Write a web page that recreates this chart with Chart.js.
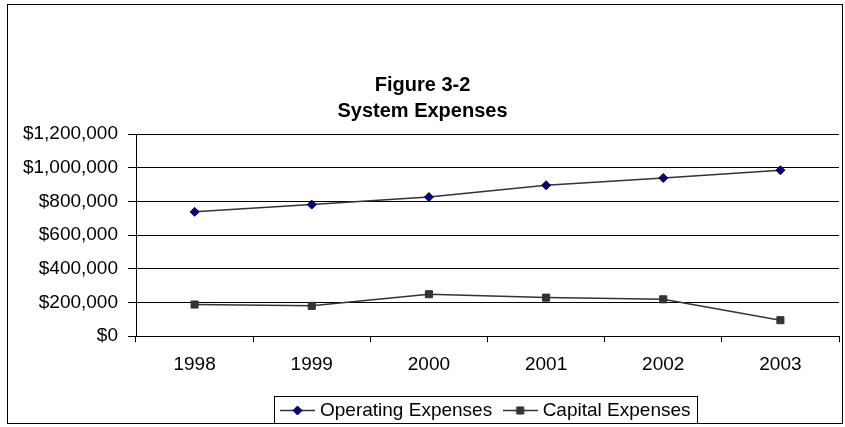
<!DOCTYPE html>
<html>
<head>
<meta charset="UTF-8">
<title>System Expenses</title>
<script src="https://cdn.jsdelivr.net/npm/chart.js@4.4.0/dist/chart.umd.min.js"></script>
<style>
    html, body { margin: 0; padding: 0; background: #fff; }
    #wrap { width: 845px; height: 427px; }
</style>
</head>
<body>
<div id="wrap"><canvas id="chart" width="845" height="427"></canvas></div>
<script>
    var years = ['1998', '1999', '2000', '2001', '2002', '2003'];
    var operatingExpenses = [738000, 781000, 826000, 896000, 939000, 985000];
    var capitalExpenses = [188000, 180000, 249000, 229000, 219000, 95000];
    var yTicks = [0, 200000, 400000, 600000, 800000, 1000000, 1200000];

    var LEGEND_DROP = -1;
    var Y_AXIS_WIDTH = 136;

    Chart.defaults.font.family = '"Liberation Sans", Arial, sans-serif';
    Chart.defaults.font.size = 19;
    Chart.defaults.color = '#000';

    // small line + marker glyph for the legend, drawn with the library's point helper
    function legendMark(style, radius, fill, stroke) {
        var c = document.createElement('canvas');
        c.width = 35;
        c.height = 13;
        var g = c.getContext('2d');
        g.strokeStyle = '#333';
        g.lineWidth = 1.5;
        g.beginPath();
        g.moveTo(0, 6.5);
        g.lineTo(35, 6.5);
        g.stroke();
        g.fillStyle = fill;
        g.strokeStyle = stroke;
        g.lineWidth = 1;
        Chart.helpers.drawPoint(g, { pointStyle: style, radius: radius, borderWidth: 1, rotation: 0 }, 17.5, 6.5);
        return c;
    }
    var marks = [
        legendMark('rectRot', 4.5, '#000080', '#000040'),
        legendMark('rect', 5, '#333', '#333')
    ];

    var legendPlacer = {
        id: 'legendPlacer',
        afterLayout: function (chart) {
            var lg = chart.legend, ca = chart.chartArea;
            if (!lg || !lg.lineWidths) return;
            var p = lg.options.labels.padding;
            var w = lg.right - lg.left;
            var lw = lg.lineWidths[0];
            var startX = (ca.left + ca.right) / 2 - (lw - p) / 2;
            lg.left = startX - (p + w - lw) / 2;
            lg.right = lg.left + w;
            lg.top += LEGEND_DROP;
            lg.bottom += LEGEND_DROP;
        },
        afterDraw: function (chart) {
            var ctx = chart.ctx, hb = chart.legend.legendHitBoxes;
            ctx.save();
            ctx.strokeStyle = '#000';
            ctx.lineWidth = 1;
            if (hb && hb.length) {
                var first = hb[0], last = hb[hb.length - 1];
                var x0 = Math.round(first.left - 10) + 0.5;
                var x1 = Math.round(last.left + last.width + 6) + 0.5;
                var y0 = Math.round(first.top - 5) + 0.5;
                var y1 = Math.round(first.top + first.height + 3) + 0.5;
                ctx.strokeRect(x0, y0, x1 - x0, y1 - y0);
            }
            ctx.strokeRect(7.5, 4.5, chart.width - 10, chart.height - 8);
            ctx.restore();
        }
    };

    var chart = new Chart(document.getElementById('chart'), {
        type: 'line',
        data: {
            labels: years,
            datasets: [{
                label: 'Operating Expenses',
                data: operatingExpenses,
                borderColor: '#333',
                borderWidth: 1.5,
                pointStyle: 'rectRot',
                pointRadius: 4.5,
                pointBackgroundColor: '#000080',
                pointBorderColor: '#000040',
                pointBorderWidth: 1,
                fill: false,
                tension: 0
            }, {
                label: 'Capital Expenses',
                data: capitalExpenses,
                borderColor: '#333',
                borderWidth: 1.5,
                pointStyle: 'rect',
                pointRadius: 5,
                pointBackgroundColor: '#333',
                pointBorderColor: '#333',
                pointBorderWidth: 1,
                fill: false,
                tension: 0
            }]
        },
        options: {
            responsive: false,
            animation: false,
            layout: { padding: { left: 0, right: 0, top: 5, bottom: -4 } },
            plugins: {
                title: {
                    display: true,
                    text: ['Figure 3-2', 'System Expenses'],
                    font: { size: 20, weight: 'bold', lineHeight: 1.3 },
                    color: '#000',
                    padding: { top: 67, bottom: 10 }
                },
                legend: {
                    position: 'bottom',
                    labels: {
                        usePointStyle: true,
                        pointStyleWidth: 26,
                        padding: 15,
                        font: { size: 19 },
                        generateLabels: function (chart) {
                            var items = Chart.defaults.plugins.legend.labels.generateLabels(chart);
                            items.forEach(function (it, i) { it.pointStyle = marks[i]; });
                            return items;
                        }
                    }
                },
                tooltip: { enabled: false }
            },
            scales: {
                x: {
                    offset: true,
                    grid: {
                        offset: true,
                        drawOnChartArea: false,
                        drawTicks: true,
                        tickLength: 6,
                        color: '#000'
                    },
                    border: { color: '#000', width: 1 },
                    ticks: { padding: 11, color: '#000' }
                },
                y: {
                    min: 0,
                    max: 1200000,
                    afterBuildTicks: function (scale) {
                        scale.ticks = yTicks.map(function (v) { return { value: v }; });
                    },
                    afterFit: function (scale) {
                        scale.width = Y_AXIS_WIDTH;
                    },
                    grid: { color: '#000', lineWidth: 1, tickLength: 8 },
                    border: { color: '#000', width: 1 },
                    ticks: {
                        padding: 10,
                        color: '#000',
                        callback: function (v) { return '$' + Number(v).toLocaleString('en-US'); }
                    }
                }
            }
        },
        plugins: [legendPlacer]
    });
</script>
</body>
</html>
